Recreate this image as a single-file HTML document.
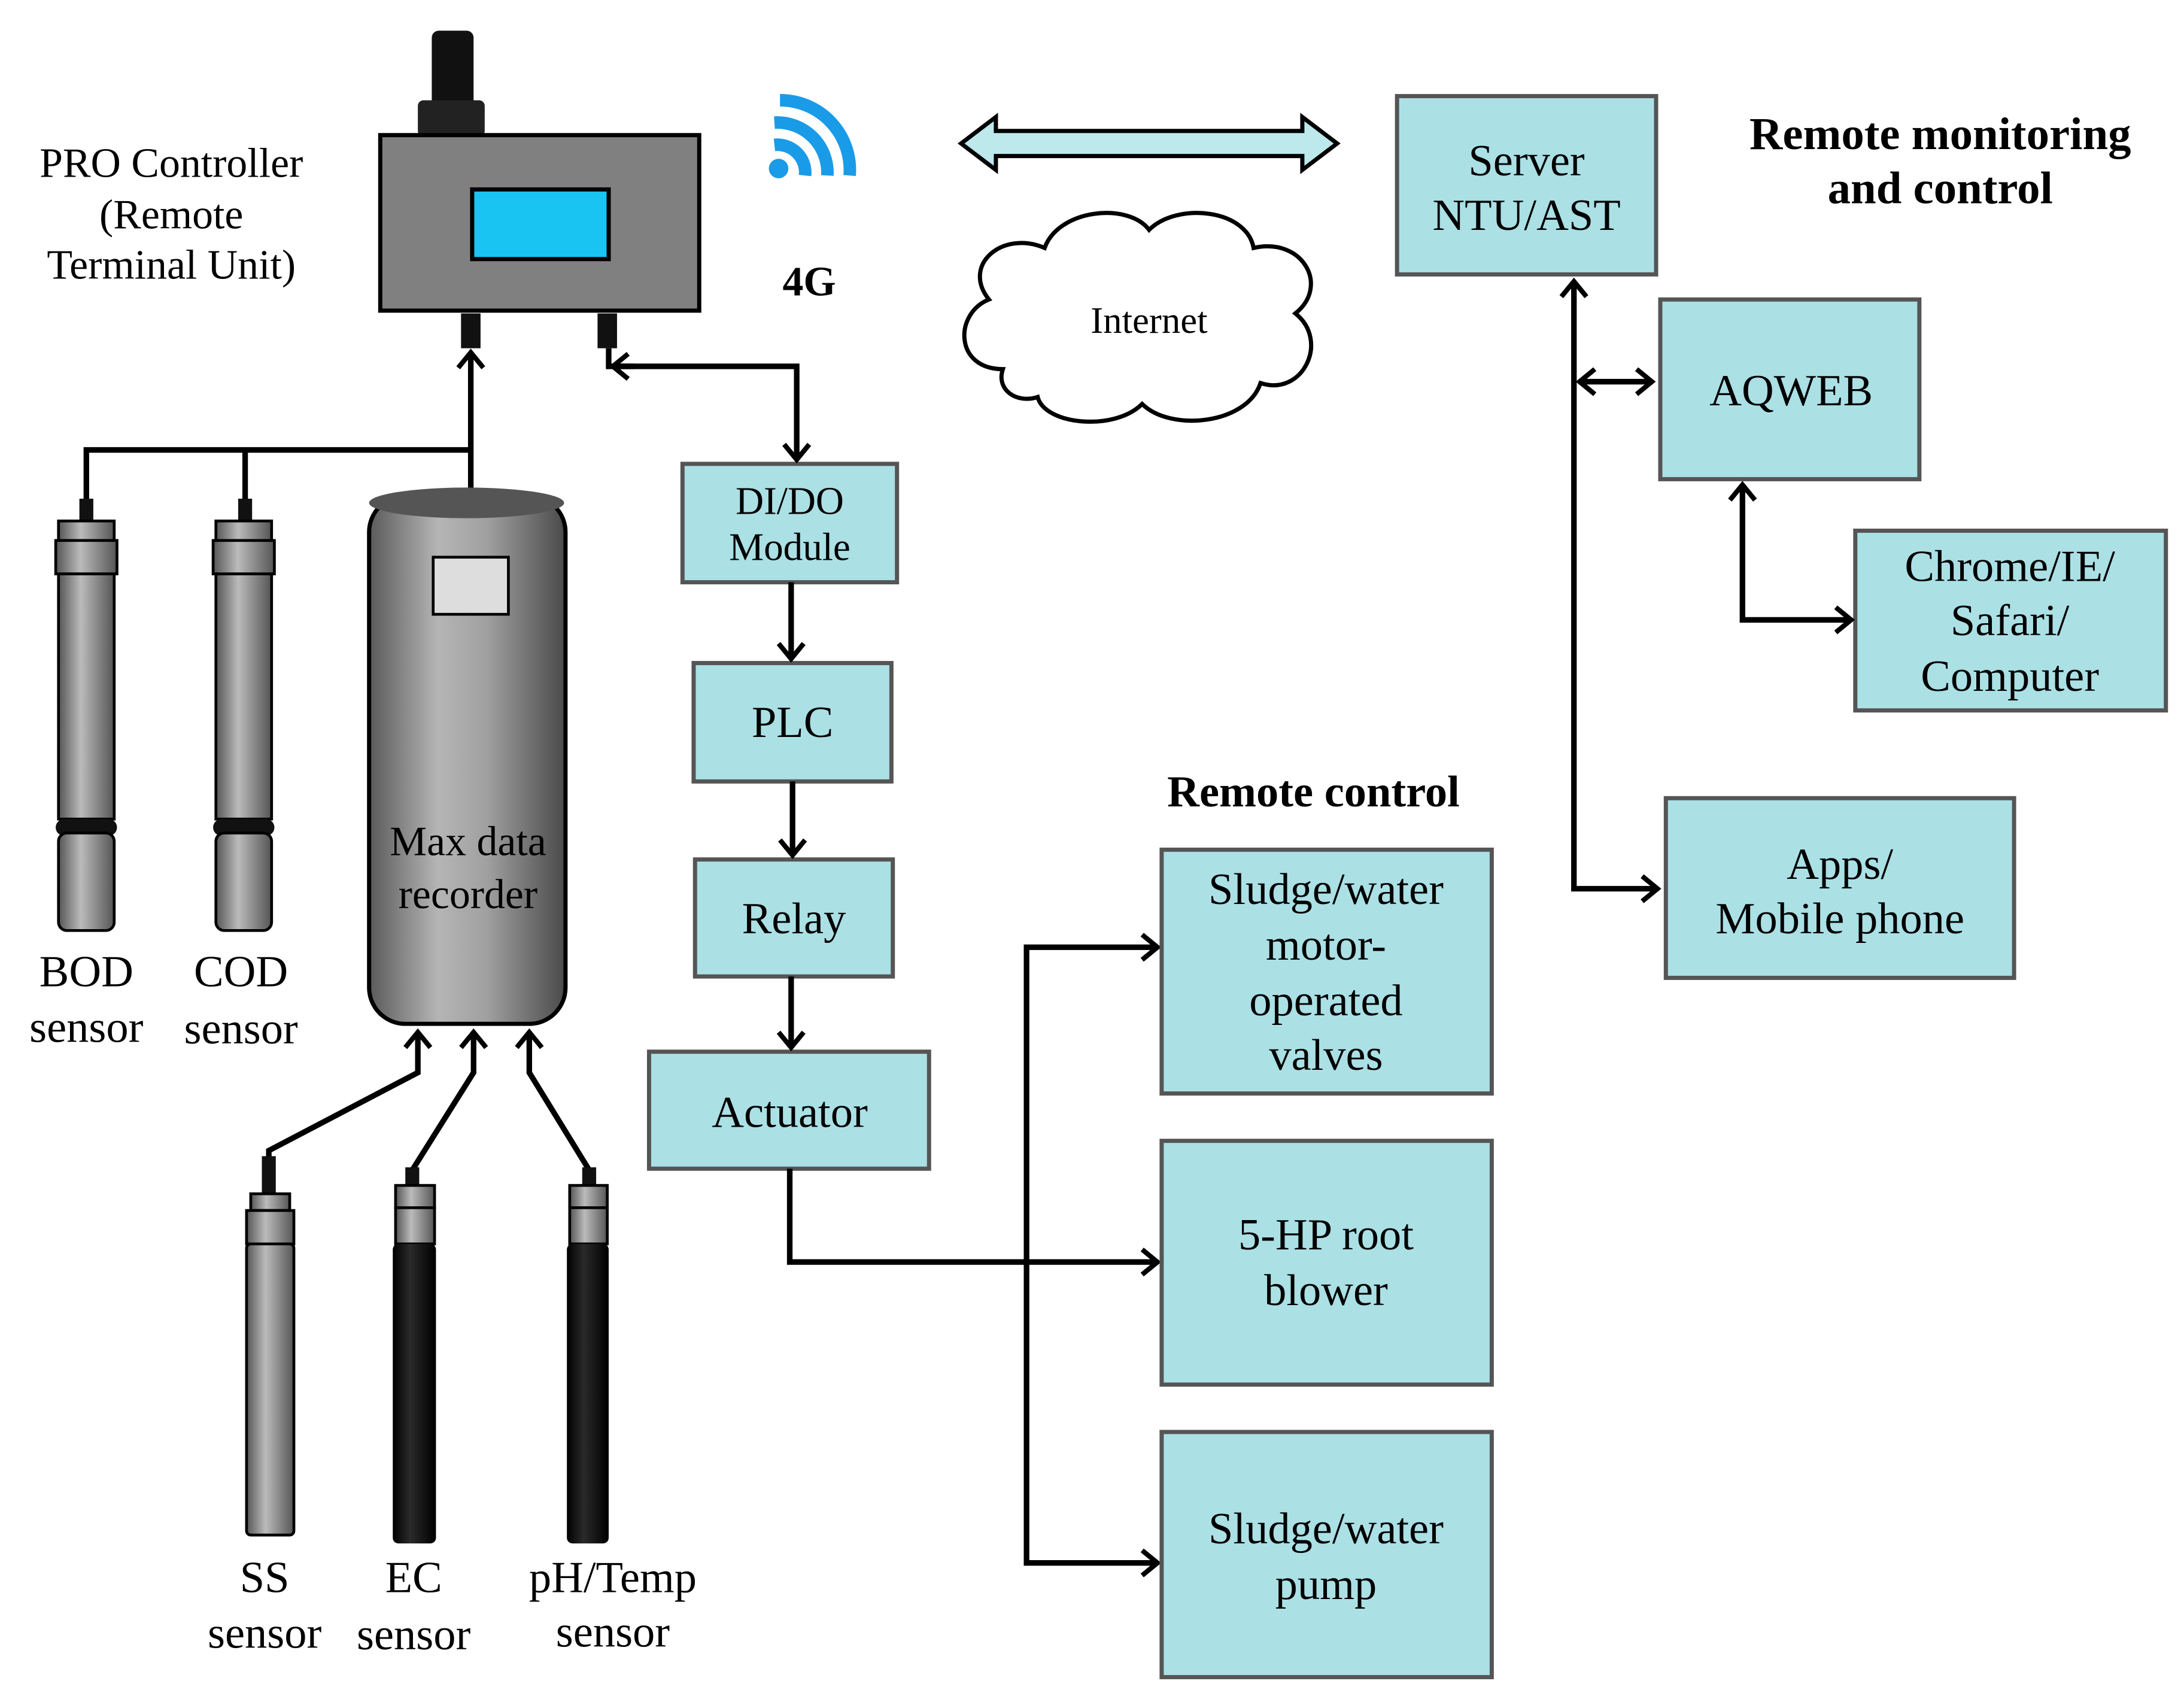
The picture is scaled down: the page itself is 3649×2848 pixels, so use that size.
<!DOCTYPE html>
<html><head><meta charset="utf-8"><style>
html,body{margin:0;padding:0;background:#fff;width:3649px;height:2848px;overflow:hidden}
svg{display:block}
text{font-family:"Liberation Serif",serif;fill:#000}
</style></head><body>
<svg width="3649" height="2848" viewBox="0 0 1568 1224" preserveAspectRatio="none" xmlns="http://www.w3.org/2000/svg">
<defs>
<marker id="ah" viewBox="0 0 14 20" refX="12" refY="10" markerWidth="14" markerHeight="20" orient="auto-start-reverse" markerUnits="userSpaceOnUse" style="overflow:visible">
<path d="M1,1 L12,10 L1,19" fill="none" stroke="#000" stroke-width="3.5"/>
</marker>
<linearGradient id="cyl" x1="0" x2="1" y1="0" y2="0">
<stop offset="0" stop-color="#5a5a5a"/><stop offset="0.35" stop-color="#b5b5b5"/><stop offset="0.6" stop-color="#a0a0a0"/><stop offset="1" stop-color="#4a4a4a"/>
</linearGradient>
<linearGradient id="sen" x1="0" x2="1" y1="0" y2="0">
<stop offset="0" stop-color="#555"/><stop offset="0.4" stop-color="#bbb"/><stop offset="1" stop-color="#555"/>
</linearGradient>
<linearGradient id="blk" x1="0" x2="1" y1="0" y2="0">
<stop offset="0" stop-color="#000"/><stop offset="0.4" stop-color="#2a2a2a"/><stop offset="1" stop-color="#000"/>
</linearGradient>
</defs>
<style>
.bx{fill:#abe0e5;stroke:#555;stroke-width:3}
.ln{fill:none;stroke:#000;stroke-width:4}
.t{font-size:32px;text-anchor:middle}
.b{font-weight:bold}
</style>

<rect x="310" y="22" width="30" height="55" rx="5" fill="#111"/>
<rect x="300" y="72" width="48" height="26" rx="4" fill="#222"/>
<rect x="273" y="97" width="229" height="126" fill="#808080" stroke="#000" stroke-width="3"/>
<rect x="339" y="136" width="98" height="50" fill="#19c4f2" stroke="#000" stroke-width="3"/>
<rect x="331" y="225" width="14" height="25" fill="#111"/>
<rect x="429" y="225" width="14" height="25" fill="#111"/>
<text class="t" x="123" y="127" style="font-size:30px">PRO Controller</text>
<text class="t" x="123" y="164" style="font-size:30px">(Remote</text>
<text class="t" x="123" y="200" style="font-size:30px">Terminal Unit)</text>

<circle cx="559" cy="121" r="7" fill="#1a9be8"/>
<path d="M556,104 A20,20 0 0 1 578,126" fill="none" stroke="#1a9be8" stroke-width="9"/>
<path d="M556,88 A36,36 0 0 1 594,126" fill="none" stroke="#1a9be8" stroke-width="9"/>
<path d="M560,72 A50,50 0 0 1 610,126" fill="none" stroke="#1a9be8" stroke-width="9"/>
<text x="581" y="212" class="t b" style="font-size:30px">4G</text>

<path d="M690,103 L715,84 L715,94 L935,94 L935,84 L960,103 L935,122 L935,112 L715,112 L715,122 Z" fill="#bde8ec" stroke="#000" stroke-width="3"/>

<path d="M720,265 C685,265 685,225 710,215 C690,190 720,165 750,178 C760,150 810,145 825,165 C845,145 895,150 900,178 C935,170 955,205 930,225 C955,245 935,285 905,275 C895,305 840,310 820,290 C800,310 750,305 745,285 C730,290 715,280 720,265 Z" fill="#fff" stroke="#000" stroke-width="3"/>
<text class="t b" x="825" y="239" style="font-size:27px;font-weight:normal">Internet</text>

<rect class="bx" x="1003" y="69" width="186" height="128"/>
<text class="t" x="1096" y="126">Server</text>
<text class="t" x="1096" y="165">NTU/AST</text>
<text class="t b" x="1393" y="107" style="font-size:33px">Remote monitoring</text>
<text class="t b" x="1393" y="146" style="font-size:33px">and control</text>
<rect class="bx" x="1192" y="215" width="186" height="129"/>
<text class="t" x="1286" y="291">AQWEB</text>
<rect class="bx" x="1332" y="381" width="223" height="129"/>
<text class="t" x="1443" y="417">Chrome/IE/</text>
<text class="t" x="1443" y="456">Safari/</text>
<text class="t" x="1443" y="496">Computer</text>
<rect class="bx" x="1196" y="573" width="250" height="129"/>
<text class="t" x="1321" y="631">Apps/</text>
<text class="t" x="1321" y="670">Mobile phone</text>
<path class="ln" d="M1130,202 L1130,638 L1190,638" marker-start="url(#ah)" marker-end="url(#ah)"/>
<path class="ln" d="M1134,274 L1186,274" marker-start="url(#ah)" marker-end="url(#ah)"/>
<path class="ln" d="M1251,348 L1251,445 L1329,445" marker-start="url(#ah)" marker-end="url(#ah)"/>

<rect class="bx" x="490" y="333" width="154" height="85"/>
<text class="t" x="567" y="369" style="font-size:28px">DI/DO</text>
<text class="t" x="567" y="402" style="font-size:28px">Module</text>
<rect class="bx" x="498" y="476" width="142" height="85"/>
<text class="t" x="569" y="529">PLC</text>
<rect class="bx" x="499" y="617" width="142" height="84"/>
<text class="t" x="570" y="670">Relay</text>
<rect class="bx" x="466" y="755" width="201" height="84"/>
<text class="t" x="567" y="809">Actuator</text>
<path class="ln" d="M437,250 L437,263 L572,263 L572,330" marker-end="url(#ah)"/>
<path class="ln" d="M455,263 L440,263" marker-end="url(#ah)"/>
<path class="ln" d="M568,418 L568,473" marker-end="url(#ah)"/>
<path class="ln" d="M569,561 L569,614" marker-end="url(#ah)"/>
<path class="ln" d="M568,701 L568,752" marker-end="url(#ah)"/>
<path class="ln" d="M567,839 L567,906 L831,906" marker-end="url(#ah)"/>
<path class="ln" d="M831,680 L737,680 L737,1122 L831,1122" marker-start="url(#ah)" marker-end="url(#ah)"/>
<text class="t b" x="943" y="579">Remote control</text>
<rect class="bx" x="834" y="610" width="237" height="175"/>
<text class="t" x="952" y="649">Sludge/water</text>
<text class="t" x="952" y="689">motor-</text>
<text class="t" x="952" y="729">operated</text>
<text class="t" x="952" y="768">valves</text>
<rect class="bx" x="834" y="819" width="237" height="175"/>
<text class="t" x="952" y="897">5-HP root</text>
<text class="t" x="952" y="937">blower</text>
<rect class="bx" x="834" y="1028" width="237" height="176"/>
<text class="t" x="952" y="1108">Sludge/water</text>
<text class="t" x="952" y="1148">pump</text>

<path class="ln" d="M338,355 L338,253" marker-end="url(#ah)"/>
<path class="ln" d="M62,370 L62,323 L338,323 M176,323 L176,370"/>
<rect x="57" y="358" width="10" height="16" fill="#111"/>
<rect x="171" y="358" width="10" height="16" fill="#111"/>

<g>
<rect x="42" y="374" width="40" height="14" fill="url(#sen)" stroke="#000" stroke-width="2"/>
<rect x="40" y="388" width="44" height="24" fill="url(#sen)" stroke="#000" stroke-width="2"/>
<rect x="42" y="412" width="40" height="176" fill="url(#sen)" stroke="#000" stroke-width="2"/>
<rect x="40" y="588" width="44" height="12" rx="6" fill="#111"/>
<rect x="42" y="598" width="40" height="70" rx="6" fill="url(#sen)" stroke="#000" stroke-width="2"/>
</g>
<g transform="translate(113,0)">
<rect x="42" y="374" width="40" height="14" fill="url(#sen)" stroke="#000" stroke-width="2"/>
<rect x="40" y="388" width="44" height="24" fill="url(#sen)" stroke="#000" stroke-width="2"/>
<rect x="42" y="412" width="40" height="176" fill="url(#sen)" stroke="#000" stroke-width="2"/>
<rect x="40" y="588" width="44" height="12" rx="6" fill="#111"/>
<rect x="42" y="598" width="40" height="70" rx="6" fill="url(#sen)" stroke="#000" stroke-width="2"/>
</g>
<text class="t" x="62" y="708">BOD</text>
<text class="t" x="62" y="748">sensor</text>
<text class="t" x="173" y="708">COD</text>
<text class="t" x="173" y="749">sensor</text>

<rect x="265" y="356" width="141" height="379" rx="26" fill="url(#cyl)" stroke="#000" stroke-width="3"/>
<ellipse cx="335" cy="361" rx="70" ry="11" fill="#555"/>
<rect x="311" y="400" width="54" height="41" fill="#ddd" stroke="#000" stroke-width="2"/>
<text class="t" x="336" y="614" style="font-size:30px">Max data</text>
<text class="t" x="336" y="652" style="font-size:30px">recorder</text>

<path class="ln" d="M193,832 L193,826 L300,770 L300,741" marker-end="url(#ah)"/>
<path class="ln" d="M296,840 L340,770 L340,741" marker-end="url(#ah)"/>
<path class="ln" d="M423,840 L380,770 L380,741" marker-end="url(#ah)"/>
<rect x="188" y="830" width="10" height="28" fill="#111"/>
<rect x="291" y="838" width="10" height="14" fill="#111"/>
<rect x="418" y="838" width="10" height="14" fill="#111"/>

<rect x="180" y="857" width="28" height="12" fill="url(#sen)" stroke="#000" stroke-width="2"/>
<rect x="177" y="869" width="34" height="24" fill="url(#sen)" stroke="#000" stroke-width="2"/>
<rect x="177" y="893" width="34" height="209" rx="3" fill="url(#sen)" stroke="#000" stroke-width="2"/>
<rect x="284" y="851" width="28" height="16" fill="url(#sen)" stroke="#000" stroke-width="2"/>
<rect x="284" y="867" width="28" height="26" fill="url(#sen)" stroke="#000" stroke-width="2"/>
<rect x="282" y="893" width="31" height="215" rx="4" fill="url(#blk)"/>
<rect x="409" y="851" width="27" height="16" fill="url(#sen)" stroke="#000" stroke-width="2"/>
<rect x="409" y="867" width="27" height="26" fill="url(#sen)" stroke="#000" stroke-width="2"/>
<rect x="407" y="893" width="30" height="215" rx="4" fill="url(#blk)"/>

<text class="t" x="190" y="1143">SS</text>
<text class="t" x="190" y="1183">sensor</text>
<text class="t" x="297" y="1143">EC</text>
<text class="t" x="297" y="1184">sensor</text>
<text class="t" x="440" y="1143">pH/Temp</text>
<text class="t" x="440" y="1182">sensor</text>
</svg>
</body></html>
